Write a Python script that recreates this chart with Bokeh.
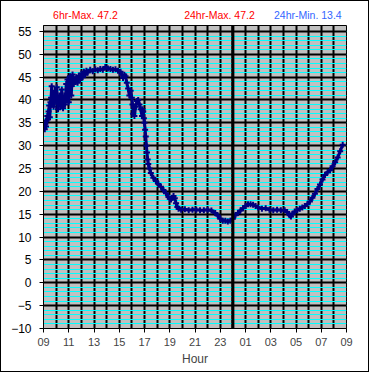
from bokeh.plotting import figure
from bokeh.models import FixedTicker, Arrow, Range1d
from bokeh.layouts import column
from bokeh.core.properties import value
from bokeh.embed import file_html
from bokeh.resources import INLINE

# hours elapsed since 09:00
hours = [0.0, 0.05, 0.1, 0.15, 0.2, 0.25, 0.3, 0.35, 0.4, 0.45, 0.5, 0.55, 0.6, 0.65, 0.7, 0.75,
         0.8, 0.85, 0.9, 0.95, 1.0, 1.05, 1.1, 1.15, 1.2, 1.25, 1.3, 1.35, 1.4, 1.45, 1.5, 1.55,
         1.6, 1.65, 1.7, 1.75, 1.8, 1.85, 1.9, 1.95, 2.0, 2.05, 2.1, 2.15, 2.2, 2.25, 2.3, 2.4,
         2.5, 2.6, 2.7, 2.8, 2.9, 3.0, 3.1, 3.2, 3.3, 3.4, 3.5, 3.7, 3.9, 4.1, 4.3, 4.5, 4.7,
         4.9, 5.1, 5.3, 5.5, 5.7, 5.9, 6.1, 6.2, 6.3, 6.4, 6.5, 6.6, 6.7, 6.8, 6.9, 7.0, 7.05,
         7.1, 7.15, 7.2, 7.3, 7.4, 7.5, 7.6, 7.7, 7.8, 7.85, 7.9, 7.95, 8.0, 8.05, 8.1, 8.15,
         8.2, 8.25, 8.3, 8.4, 8.5, 8.7, 8.9, 9.1, 9.3, 9.5, 9.7, 9.9, 10.0, 10.1, 10.2, 10.3,
         10.4, 10.5, 10.6, 10.7, 10.9, 11.2, 11.5, 11.8, 12.1, 12.4, 12.7, 13.0, 13.3, 13.6,
         13.8, 14.0, 14.2, 14.4, 14.6, 14.8, 15.0, 15.2, 15.4, 15.6, 15.8, 16.0, 16.2, 16.4,
         16.6, 16.8, 17.0, 17.3, 17.6, 17.9, 18.2, 18.5, 18.8, 19.1, 19.3, 19.5, 19.6, 19.7,
         19.9, 20.1, 20.3, 20.5, 20.7, 20.9, 21.1, 21.3, 21.5, 21.7, 21.9, 22.1, 22.3, 22.5,
         22.7, 22.9, 23.1, 23.3, 23.5, 23.7]
temps = [35.0, 34.0, 33.6, 34.8, 34.2, 35.5, 36.5, 35.8, 37.5, 38.8, 36.2, 39.5, 40.5, 43.0, 39.0, 41.5,
         38.5, 40.0, 42.0, 40.5, 39.5, 42.8, 40.0, 38.0, 39.8, 41.0, 40.2, 38.5, 40.5, 42.3, 40.0, 38.2,
         39.5, 41.0, 39.0, 40.5, 43.5, 40.0, 44.5, 41.0, 39.5, 42.0, 45.2, 43.0, 41.0, 44.0, 45.6, 43.5,
         44.2, 45.0, 43.8, 45.3, 44.5, 45.8, 45.0, 46.2, 45.5, 46.4, 46.0, 46.6, 46.3, 46.7, 46.5, 46.8, 46.6,
         47.2, 46.9, 46.8, 46.6, 46.7, 46.4, 46.2, 45.5, 44.8, 45.5, 45.2, 43.8, 42.5, 41.0, 42.0, 40.5, 39.0,
         37.0, 38.5, 36.5, 38.5, 39.8, 40.0, 39.0, 38.0, 36.5, 38.0, 37.5, 36.0, 35.0, 33.5, 32.0, 30.0,
         28.5, 27.0, 26.0, 25.0, 24.0, 23.0, 22.3, 21.6, 21.0, 20.3, 19.6, 18.8, 18.4, 18.2, 18.6, 19.0,
         18.5, 17.4, 16.6, 16.2, 16.0, 16.1, 15.9, 16.0, 16.0, 15.9, 15.9, 16.0, 15.8, 15.3,
         14.7, 14.0, 13.6, 13.6, 13.4, 13.6, 14.0, 14.8, 15.3, 15.8, 16.3, 16.8, 17.2, 17.2,
         17.1, 16.8, 16.5, 16.2, 16.3, 16.0, 15.9, 16.0, 15.9, 15.9, 15.5, 14.8, 14.5, 15.0,
         15.6, 15.9, 16.2, 16.5, 16.8, 17.2, 17.8, 18.6, 19.5, 20.5, 21.5, 22.6, 23.6, 24.2,
         24.6, 25.5, 26.4, 27.4, 28.8, 30.2]

x_tick_hours = [0, 2, 4, 6, 8, 10, 12, 14, 16, 18, 20, 22, 24]
x_tick_labels = ["09", "11", "13", "15", "17", "19", "21", "23", "01", "03", "05", "07", "09"]
y_ticks = [-10, -5, 0, 5, 10, 15, 20, 25, 30, 35, 40, 45, 50, 55]
midnight_hour = 15
header_texts = ["6hr-Max. 47.2", "24hr-Max. 47.2", "24hr-Min. 13.4"]
header_colors = ["#FF0000", "#FF0000", "#3366FF"]

# header strip holding the three summary texts (shares the hour axis of the plot frame)
head = figure(width=367, height=22, x_range=Range1d(0, 24), y_range=Range1d(0, 22),
              output_backend="svg", toolbar_location=None,
              x_axis_location=None, y_axis_location=None,
              min_border_left=42, min_border_right=22, min_border_top=0, min_border_bottom=0)
head.grid.visible = False
head.outline_line_color = None
head.background_fill_color = "white"
head.border_fill_color = "white"
head.text(x=[0.76, 11.14, 23.62], y=[9, 9, 9], text=header_texts, text_color=header_colors,
          text_align=["left", "left", "right"],
          text_font=value("Liberation Sans"), text_font_size=value("10.5px"),
          text_baseline="middle")

p = figure(width=367, height=348, x_range=(0, 24), y_range=(-10, 56.3),
           output_backend="svg", toolbar_location=None,
           min_border_left=42, min_border_right=22, min_border_top=2, min_border_bottom=43)
p.background_fill_color = "#C0C0C0"
p.border_fill_color = "white"
p.outline_line_color = "black"
p.outline_line_width = 1

# y axis
p.yaxis.ticker = FixedTicker(ticks=y_ticks, minor_ticks=list(range(-10, 56)))
p.yaxis.minor_tick_line_color = None
p.yaxis.major_tick_in = 0
p.yaxis.major_tick_out = 4
p.yaxis.major_label_standoff = 8
p.yaxis.major_label_text_font = "Liberation Sans"
p.yaxis.major_label_text_font_size = "12px"
p.yaxis.major_label_text_color = "black"
p.yaxis.axis_line_color = "black"

# x axis
p.xaxis.ticker = FixedTicker(ticks=x_tick_hours)
p.xaxis.major_label_overrides = {h: l for h, l in zip(x_tick_hours, x_tick_labels)}
p.xaxis.minor_tick_line_color = None
p.xaxis.major_tick_in = 0
p.xaxis.major_tick_out = 4
p.xaxis.major_label_standoff = 5
p.xaxis.major_label_text_font = "Liberation Sans"
p.xaxis.major_label_text_font_size = "11px"
p.xaxis.axis_label = "Hour"
p.xaxis.axis_label_text_font = "Liberation Sans"
p.xaxis.axis_label_text_font_size = "12px"
p.xaxis.axis_label_text_font_style = "normal"
p.xaxis.axis_label_standoff = 3
p.xaxis.axis_line_color = "black"

# grids
p.ygrid.ticker = FixedTicker(ticks=y_ticks, minor_ticks=list(range(-10, 56)))
p.ygrid.grid_line_color = "black"
p.ygrid.grid_line_width = 2
p.ygrid.minor_grid_line_color = "#00FFFF"
p.ygrid.minor_grid_line_width = 1
p.xgrid.ticker = FixedTicker(ticks=list(range(0, 25)))
p.xgrid.grid_line_color = "black"
p.xgrid.grid_line_width = 2

# data
p.line(hours, temps, line_color="#000080", line_width=3)
p.scatter(hours, temps, marker="cross", size=6, line_color="#000080", line_width=2)

# midnight divider
p.add_layout(Arrow(end=None, x_start=midnight_hour, y_start=56.7, x_end=midnight_hour, y_end=-12.4,
                   line_color="black", line_width=3))

layout = column(head, p, spacing=0, styles={"border": "1px solid black", "background": "white"})

open("out.html", "w").write(file_html(layout, INLINE))
